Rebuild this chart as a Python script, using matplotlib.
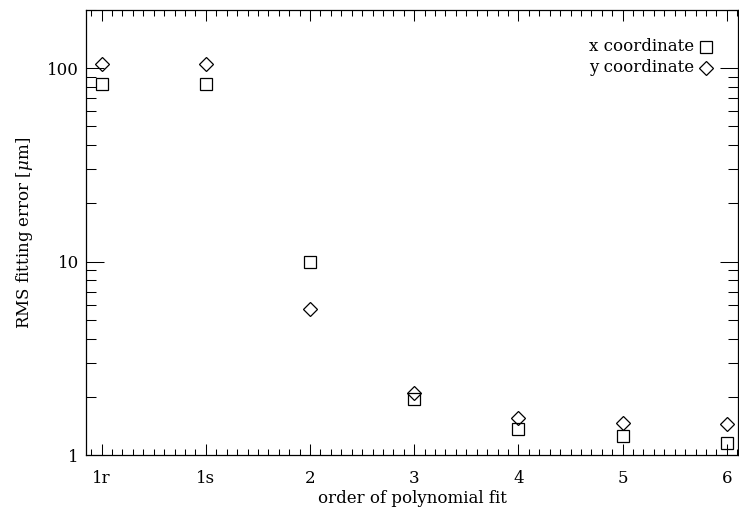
#!/usr/bin/env python3
"""RMS fitting error versus order of the polynomial fit, x and y coordinates."""

import matplotlib
matplotlib.use('Agg')
import matplotlib.pyplot as plt
from matplotlib.ticker import FixedLocator, MultipleLocator, LogLocator, NullFormatter

# Fit orders on the x axis and the RMS error [um] of each coordinate.
orders = ['1r', '1s', '2', '3', '4', '5', '6']
x_rms = [83.0, 83.0, 10.0, 1.95, 1.36, 1.26, 1.16]
y_rms = [105.0, 105.0, 5.7, 2.1, 1.55, 1.46, 1.44]

FONT = 'DejaVu Serif'
FS = 12
plt.rcParams['font.family'] = FONT
plt.rcParams['mathtext.fontset'] = 'dejavuserif'

fig = plt.figure(figsize=(7.39, 5.13), dpi=100)
ax = fig.add_axes([86 / 739, 1 - 455 / 513, 653 / 739 - 0.001, 445 / 513])

pos = list(range(len(orders)))
ax.plot(pos, x_rms, linestyle='none', marker='s', ms=8.0, mfc='none',
        mec='black', mew=0.9)
ax.plot(pos, y_rms, linestyle='none', marker='D', ms=6.8, mfc='none',
        mec='black', mew=0.9)

ax.set_yscale('log')
ax.set_ylim(1, 200)
ax.set_xlim(-0.15, 6.11)

ax.xaxis.set_major_locator(FixedLocator(pos))
ax.set_xticklabels(orders)
ax.xaxis.set_minor_locator(MultipleLocator(0.1))
ax.yaxis.set_major_locator(FixedLocator([1, 10, 100]))
ax.set_yticklabels(['1', '10', '100'])
ax.yaxis.set_minor_locator(LogLocator(base=10, subs=range(2, 10)))
ax.yaxis.set_minor_formatter(NullFormatter())

ax.tick_params(axis='both', which='both', direction='in', top=True, right=True,
               width=0.75, color='black', labelsize=FS)
ax.tick_params(axis='x', which='major', length=8, pad=11)
ax.tick_params(axis='x', which='minor', length=4)
ax.tick_params(axis='y', which='major', length=13, pad=5)
ax.tick_params(axis='y', which='minor', length=7)
for spine in ax.spines.values():
    spine.set_linewidth(0.9)
    spine.set_color('black')

ax.set_xlabel('order of polynomial fit', fontsize=FS, labelpad=2)
ax.set_ylabel(r'RMS fitting error [$\mu$m]', fontsize=FS, labelpad=9)

# Key in the upper right: label text followed by its marker.
ax.text(0.933, 0.917, 'x coordinate', transform=ax.transAxes, ha='right',
        va='center', fontsize=FS)
ax.text(0.933, 0.870, 'y coordinate', transform=ax.transAxes, ha='right',
        va='center', fontsize=FS)
ax.plot([0.950], [0.917], transform=ax.transAxes, marker='s', ms=8.0,
        mfc='none', mec='black', mew=0.9, clip_on=False)
ax.plot([0.950], [0.870], transform=ax.transAxes, marker='D', ms=6.8,
        mfc='none', mec='black', mew=0.9, clip_on=False)

fig.savefig('out.png', dpi=100, facecolor='white')
